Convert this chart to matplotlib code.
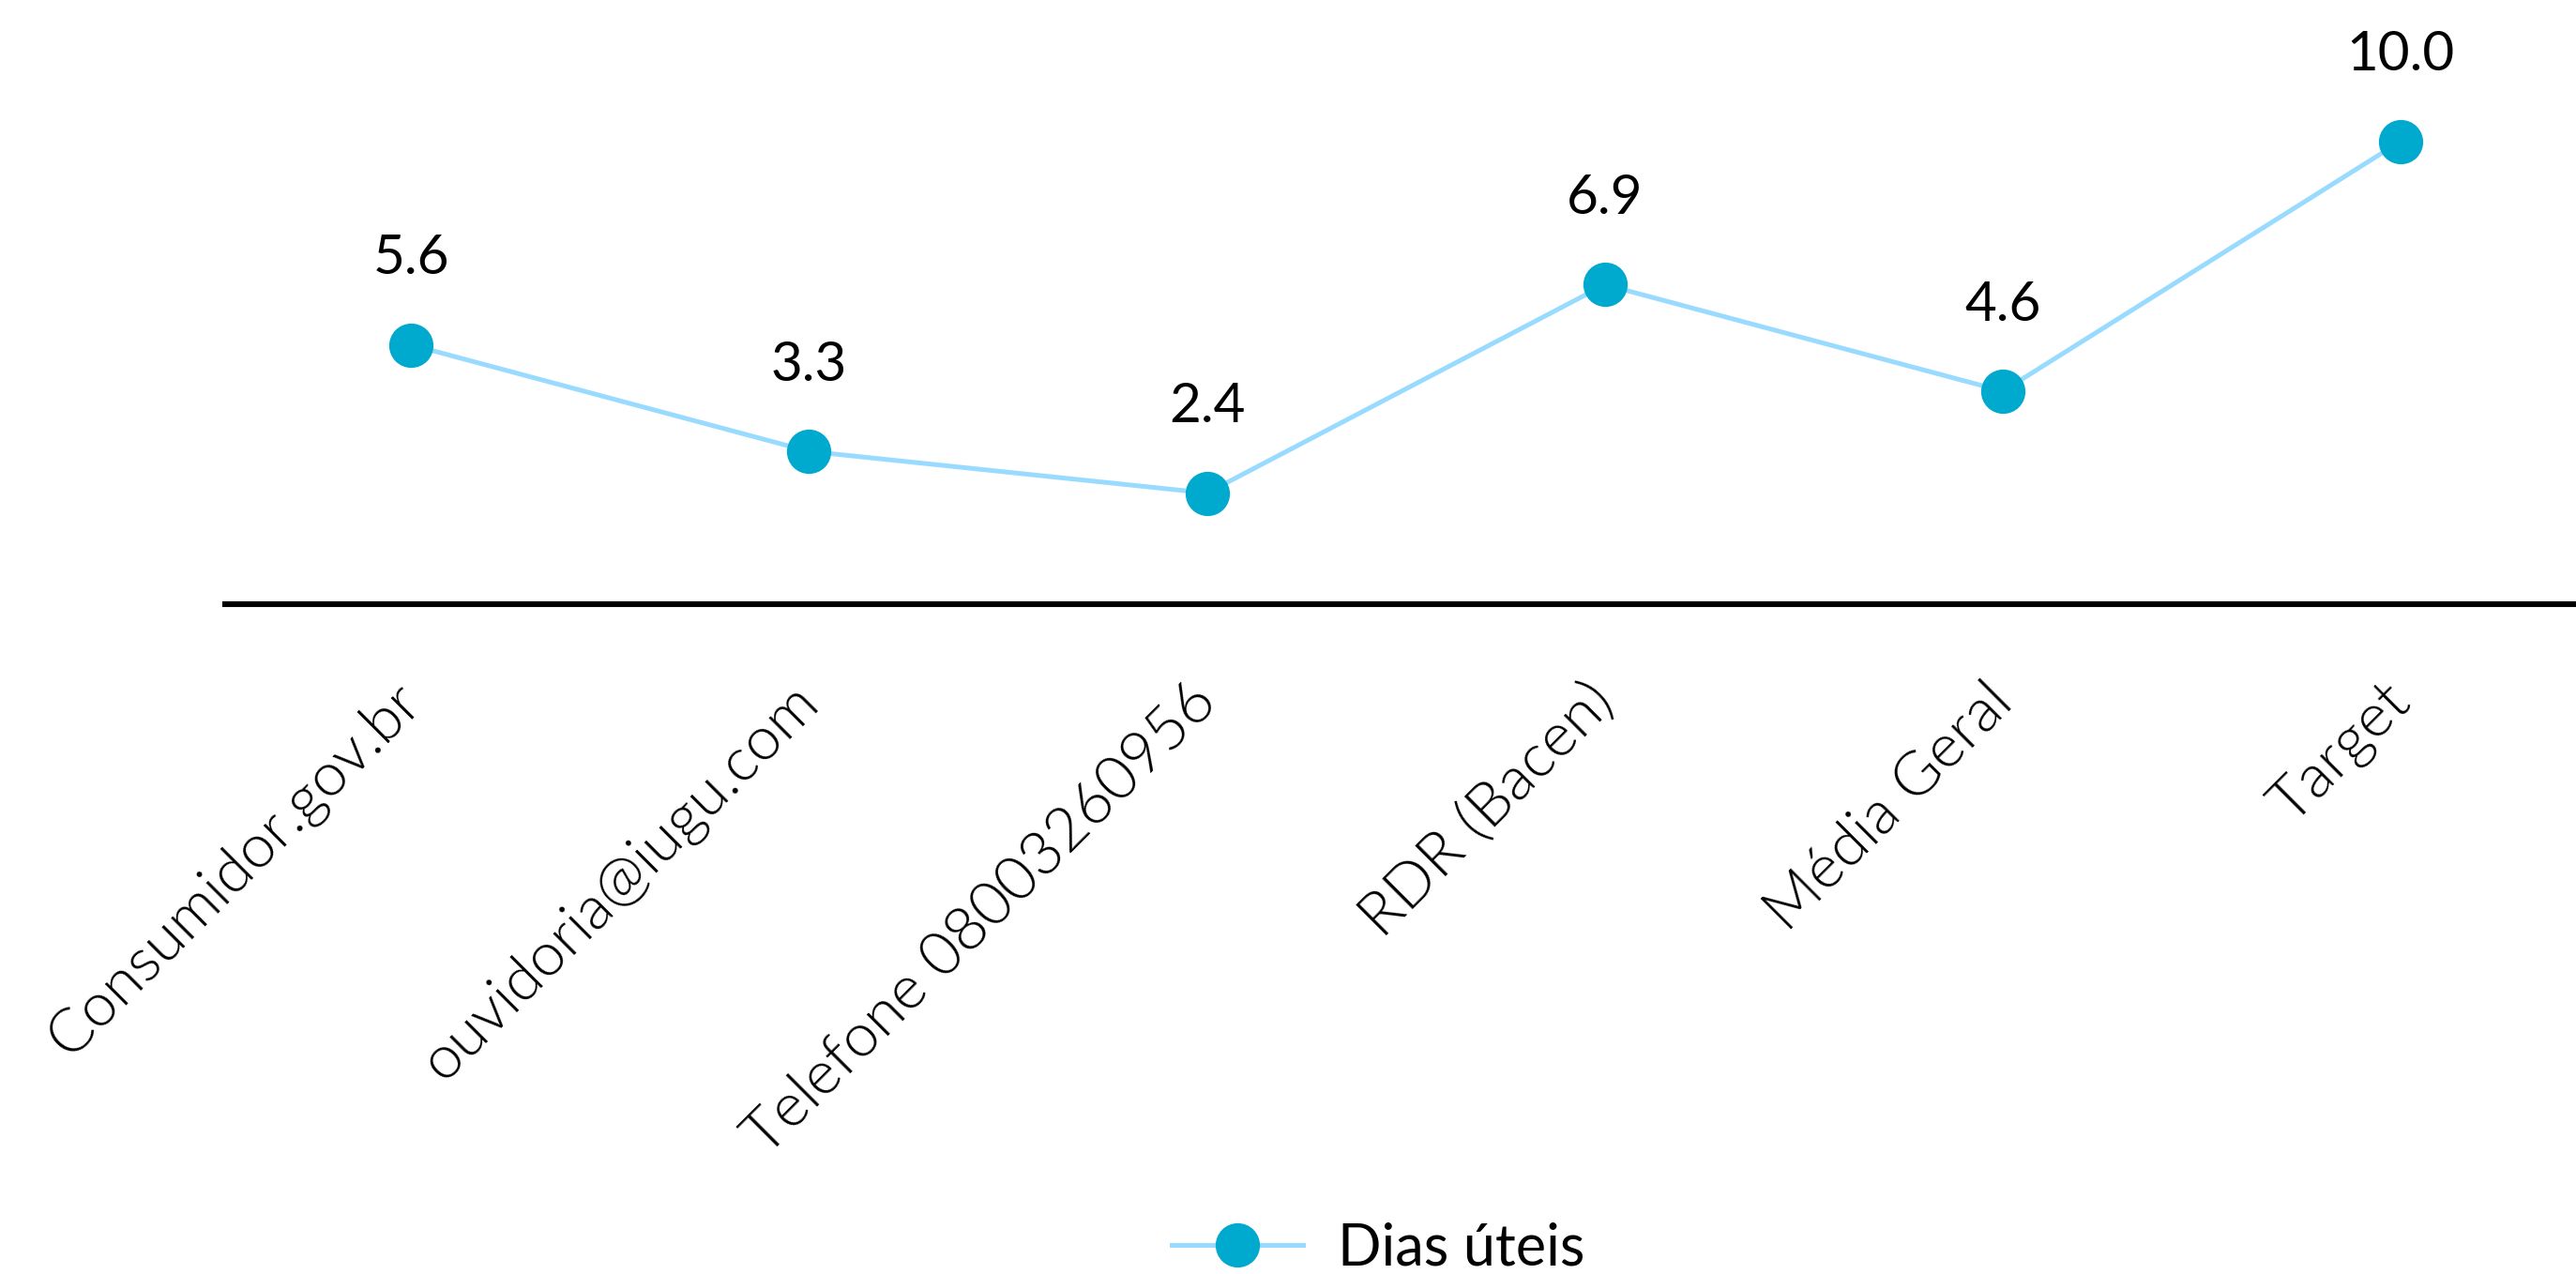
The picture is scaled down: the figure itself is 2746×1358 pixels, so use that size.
import matplotlib
matplotlib.use("Agg")
import matplotlib.pyplot as plt

categories = ["Consumidor.gov.br", "ouvidoria@iugu.com", "Telefone 08003260956",
              "RDR (Bacen)", "Média Geral", "Target"]
dias_uteis = [5.6, 3.3, 2.4, 6.9, 4.6, 10.0]
labels = ["5.6", "3.3", "2.4", "6.9", "4.6", "10.0"]

line_color = "#99DBFF"
marker_color = "#00A9CE"

fig = plt.figure(figsize=(13.73, 6.79), dpi=200)
ax = fig.add_axes([0.0874, 0.5258, 0.9126, 0.4742])

x = list(range(len(categories)))
ax.plot(x, dias_uteis, color=line_color, linewidth=1.8, marker="o",
        markersize=16, markerfacecolor=marker_color, markeredgecolor=marker_color,
        label="Dias úteis", zorder=3)

for xi, v, lab in zip(x, dias_uteis, labels):
    ax.annotate(lab, (xi, v), xytext=(0, 33), textcoords="offset points",
                ha="center", va="center", fontsize=21, family="Lato", color="black")

ax.set_xlim(-0.467, 5.44)
ax.set_ylim(0, 13.05)
ax.set_xticks(x)
ax.set_xticklabels(categories, rotation=45, ha="right", va="center",
                   rotation_mode="anchor", fontsize=23.5, family="Lato",
                   fontweight=300, color="black")
ax.tick_params(axis="x", length=0, pad=34)
ax.set_yticks([])
for s in ["top", "right", "left"]:
    ax.spines[s].set_visible(False)
ax.spines["bottom"].set_linewidth(2.2)
ax.spines["bottom"].set_color("black")

fig.legend(loc="center", bbox_to_anchor=(0.535, 0.02), frameon=False,
           prop={"family": "Lato", "size": 22},
           handlelength=2.3, handletextpad=0.6)

fig.savefig("out.png", dpi=200)
